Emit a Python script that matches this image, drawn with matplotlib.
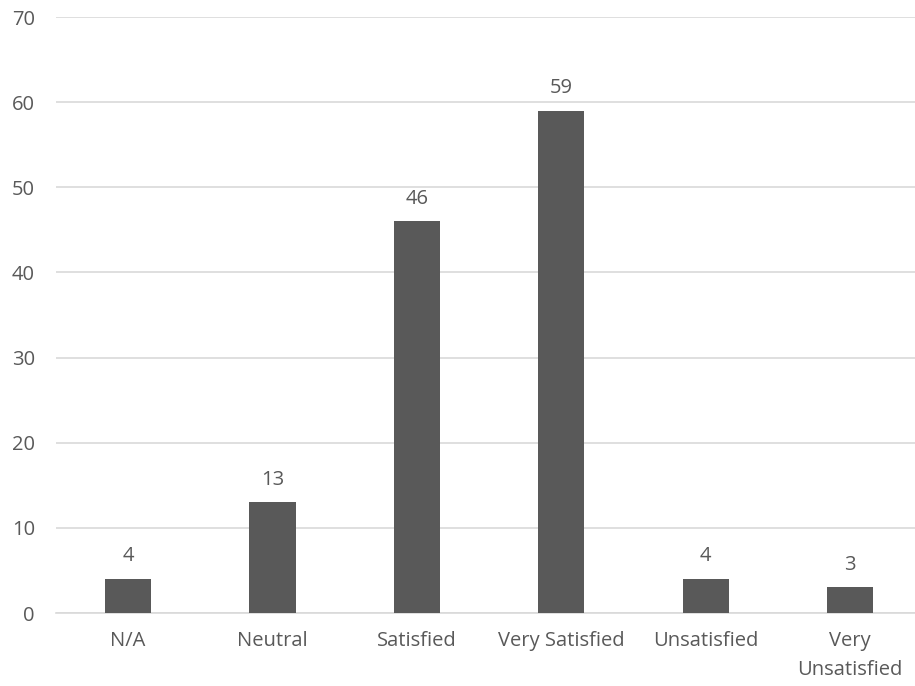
import matplotlib.pyplot as plt

# survey responses per satisfaction level
categories = ['N/A', 'Neutral', 'Satisfied', 'Very Satisfied', 'Unsatisfied', 'Very\nUnsatisfied']
counts = [4, 13, 46, 59, 4, 3]
yticks = [0, 10, 20, 30, 40, 50, 60, 70]

plt.rcParams['font.family'] = ['Open Sans', 'DejaVu Sans']
text_color = '#595959'
fs = 14.5

fig = plt.figure(figsize=(9.15, 6.86), dpi=100)
ax = fig.add_axes([0.061, 0.1064, 0.9469, 0.8688])

x = range(len(categories))
bars = ax.bar(x, counts, width=0.32, color='#595959', zorder=3)

for b, v in zip(bars, counts):
    ax.annotate(str(v), (b.get_x() + b.get_width() / 2, v),
                xytext=(0, 9), textcoords='offset points',
                ha='center', va='bottom', fontsize=fs, color=text_color)

ax.set_xlim(-0.5, len(categories) - 0.5)
ax.set_ylim(0, 70)
ax.set_yticks(yticks)
ax.set_xticks(list(x))
ax.set_xticklabels(categories, linespacing=1.6)

ax.grid(axis='y', color='#d9d9d9', linewidth=1.2, zorder=0)
for s in ['top', 'right', 'left']:
    ax.spines[s].set_visible(False)
ax.spines['bottom'].set_color('#d9d9d9')
ax.spines['bottom'].set_linewidth(1.2)

ax.tick_params(axis='both', length=0, labelsize=fs, labelcolor=text_color)
ax.tick_params(axis='y', pad=15)
ax.tick_params(axis='x', pad=13)

fig.savefig('out.png', dpi=100)
